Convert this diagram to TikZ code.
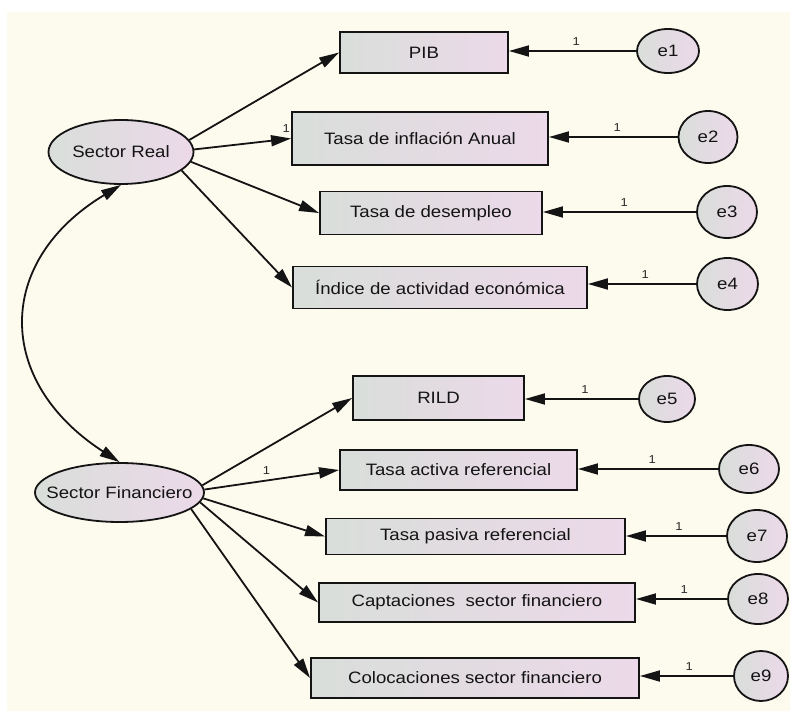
\documentclass[tikz,border=0pt]{standalone}
\usepackage{fontspec}
\setmainfont{Liberation Sans}[FakeStretch=1.13]
\usetikzlibrary{arrows.meta,shapes.geometric}
\definecolor{paper}{RGB}{253,250,238}
\definecolor{shadeL}{RGB}{217,222,218}
\definecolor{shadeR}{RGB}{236,217,233}
\definecolor{ink}{RGB}{20,20,20}
\definecolor{labelink}{RGB}{40,40,40}
\begin{document}
\begin{tikzpicture}[x=1pt,y=-1pt,
  every node/.style={inner sep=0pt,text=ink},
  txt/.style={font=\fontsize{16.5}{18}\selectfont,text=ink},
  obs/.style={draw=ink,line width=1.9pt,rectangle,left color=shadeL,right color=shadeR,txt},
  lat/.style={draw=ink,line width=1.8pt,ellipse,left color=shadeL,right color=shadeR,txt},
  factor/.style={lat,label={[txt]center:#1}},
  tip/.style={Triangle[length=20pt,width=11pt]},
  conn/.style={draw=ink,line width=1.8pt,-{Triangle[length=20pt,width=11pt]}},
  both/.style={draw=ink,line width=1.8pt,{Triangle[length=20pt,width=11pt]}-{Triangle[length=20pt,width=11pt]}},
  one/.style={font=\fontsize{11.5}{12}\selectfont,text=labelink}
]
% canvas
\fill[white] (0,0) rectangle (790,711);
\fill[paper] (7,12) rectangle (790,711);
\useasboundingbox (0,0) rectangle (790,711);

% latent factors (text set as a centred label so the ellipse keeps its size)
\node[factor=Sector Real,minimum width=145pt,minimum height=64pt] (sr) at (121,152) {};
\node[factor=Sector Financiero,minimum width=169pt,minimum height=59pt] (sf) at (119.5,492.5) {};

% observed indicators
\node[obs,minimum width=168pt,minimum height=41pt] (pib) at (424,52.5) {PIB};
\node[obs,minimum width=256pt,minimum height=53pt] (infl) at (420,138.5) {Tasa de inflación Anual};
\node[obs,minimum width=222pt,minimum height=43pt] (desemp) at (431,213) {Tasa de desempleo};
\node[obs,minimum width=294pt,minimum height=42pt] (ind) at (440,287.5) {Índice de actividad económica};
\node[obs,minimum width=171pt,minimum height=44pt] (rild) at (438.5,398) {RILD};
\node[obs,minimum width=237pt,minimum height=40pt] (activa) at (458.5,470) {Tasa activa referencial};
\node[obs,minimum width=299pt,minimum height=36pt] (pasiva) at (475.5,536.5) {Tasa pasiva referencial};
\node[obs,minimum width=316pt,minimum height=39pt] (capt) at (477,602.5) {Captaciones~ sector financiero};
\node[obs,minimum width=328pt,minimum height=40pt] (coloc) at (475,678) {Colocaciones sector financiero};

% error terms
\node[lat,minimum width=62pt,minimum height=44pt] (e1) at (668,51) {e1};
\node[lat,minimum width=59pt,minimum height=52pt] (e2) at (708,137) {e2};
\node[lat,minimum width=60pt,minimum height=52pt] (e3) at (727,212) {e3};
\node[lat,minimum width=61pt,minimum height=52pt] (e4) at (727.5,284) {e4};
\node[lat,minimum width=56pt,minimum height=46pt] (e5) at (667,399) {e5};
\node[lat,minimum width=60pt,minimum height=48pt] (e6) at (749,469) {e6};
\node[lat,minimum width=60pt,minimum height=52pt] (e7) at (757,536) {e7};
\node[lat,minimum width=60pt,minimum height=50pt] (e8) at (758,599) {e8};
\node[lat,minimum width=54pt,minimum height=50pt] (e9) at (761,676) {e9};

% loadings of Sector Real
\draw[conn] (sr.10) -- (pib.west);
\draw[conn] (sr.2) -- (infl.west) node[one,pos=0.95,above=6pt] {1};
\draw[conn] (sr.-8) -- (desemp.west);
\draw[conn] (sr.-17) -- (ind.west);

% loadings of Sector Financiero
\draw[conn] (sf.5) -- (rild.west);
\draw[conn] (sf.2) -- (activa.west) node[one,pos=0.46,above=5pt] {1};
\draw[conn] (sf.-4) -- (pasiva.west);
\draw[conn] (sf.-7.5) -- (capt.west);
\draw[conn] (sf.-13) -- (coloc.west);

% error paths
\foreach \e/\v in {e1/pib,e2/infl,e3/desemp,e4/ind,e5/rild,e6/activa,e7/pasiva,e8/capt,e9/coloc}
  \draw[conn] (\e.west) -- (\e.west -| \v.east) node[one,pos=0.47,above=5pt] {1};

% covariance between the factors
\draw[both] (sr.south) .. controls +(-126,76) and +(-125,-81) .. (sf.north);
\end{tikzpicture}
\end{document}
